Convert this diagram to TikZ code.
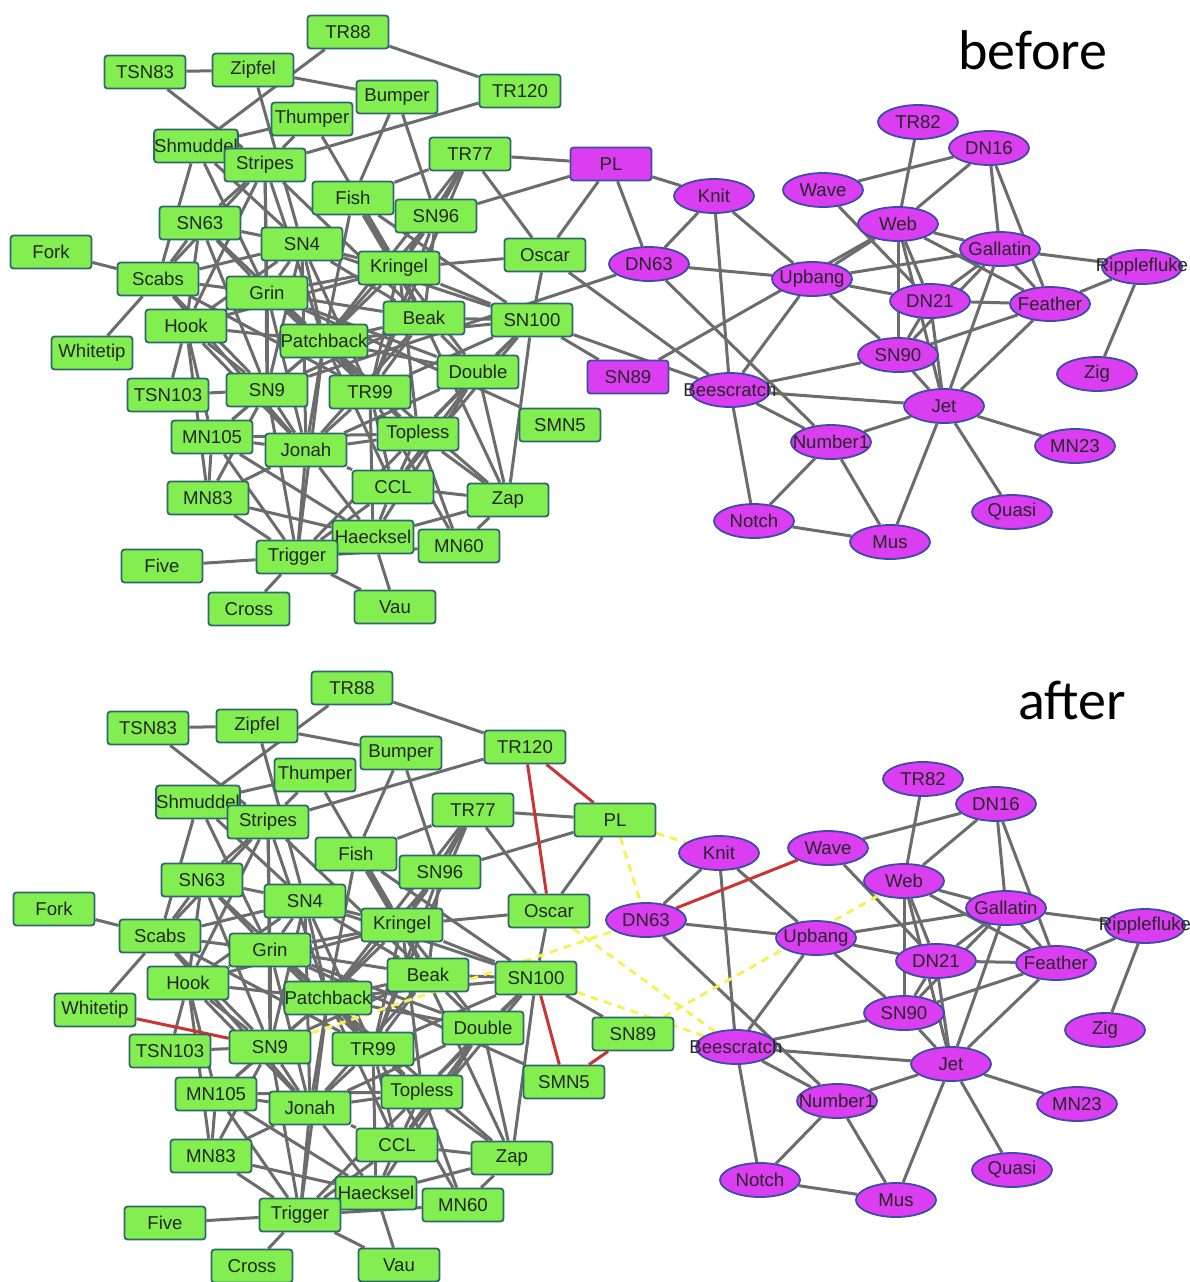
\documentclass[tikz,border=0pt]{standalone}
\usepackage{fontspec}
\setmainfont{Liberation Sans}
\newfontfamily\titlefont{Carlito}
\usetikzlibrary{shapes.geometric,backgrounds}

\definecolor{gfill}{RGB}{130,238,80}
\definecolor{gline}{RGB}{48,104,108}
\definecolor{mfill}{RGB}{218,62,240}
\definecolor{mline}{RGB}{62,76,168}
\definecolor{egray}{RGB}{108,108,108}
\definecolor{ered}{RGB}{204,52,52}
\definecolor{eyel}{RGB}{246,240,90}

\newcommand{\zw}[1]{\makebox[0pt]{#1}}

% edges that both networks share
\def\gedges{TSN83/Zipfel, TSN83/Stripes, TR88/Shmuddel, TR88/TR120, Zipfel/Bumper, Zipfel/SN4,
 Thumper/Shmuddel, Thumper/Stripes, Thumper/Kringel, Bumper/Fish, Bumper/SN96, TR120/Stripes,
 Shmuddel/Stripes, Shmuddel/Scabs, Shmuddel/SN4, Shmuddel/Grin, Stripes/SN63, Stripes/Scabs,
 Stripes/Hook, Stripes/Grin, Stripes/Beak, Stripes/Patchback, Stripes/SN9, Fish/TR77, Fish/Kringel,
 Fish/Beak, Fish/Patchback, Fish/SN100, TR77/Kringel, TR77/Patchback, TR77/TR99, TR77/Oscar,
 TR77/SN96, SN96/Kringel, SN96/Beak, SN96/TR99, SN96/Patchback, Kringel/Oscar, Kringel/SN100,
 SN4/SN100, Kringel/SN4, Oscar/SN100, SN63/SN4, SN63/Scabs, SN63/Hook, SN63/Grin, SN63/Patchback,
 SN63/SN9, Scabs/Fork, Scabs/Whitetip, Scabs/SN4, Scabs/Grin, Scabs/SN9, Scabs/TR99, Scabs/Jonah,
 SN4/Grin, SN4/Patchback, SN4/Beak, SN4/TR99, SN4/Jonah, SN4/SN9, SN4/Hook, Grin/Kringel, Grin/Beak,
 Grin/Hook, Grin/Patchback, Grin/SN9, Grin/TR99, Grin/Jonah, Grin/SMN5, Grin/Double, Hook/SN9,
 Hook/TSN103, Hook/Patchback, Hook/Kringel, Hook/MN105, Hook/Jonah, Hook/MN83, Kringel/Beak,
 Kringel/Patchback, Kringel/TR99, Kringel/Double, Kringel/Topless, Kringel/Zap, Beak/SN100,
 Beak/Patchback, Beak/Double, Beak/TR99, Beak/Jonah, Beak/SN9, Patchback/SN100, Patchback/Double,
 Patchback/TR99, Patchback/SN9, Patchback/Jonah, Patchback/Trigger, Patchback/MN105, Patchback/Topless,
 Patchback/CCL, Patchback/Zap, SN100/Double, SN100/Zap, SN100/CCL, SN100/TR99, SN100/Topless,
 Double/Zap, Double/Topless, Double/CCL, Double/Haecksel, Double/Jonah, TR99/Topless, TR99/CCL,
 TR99/Jonah, TR99/Haecksel, TR99/MN60, SN9/TSN103, SN9/MN105, SN9/Jonah, SN9/MN83, SN9/Trigger,
 MN105/Jonah, MN105/Topless, MN105/MN83, MN105/Trigger, MN105/Haecksel, Jonah/Topless, Jonah/MN83,
 Jonah/Trigger, Jonah/Haecksel, Jonah/CCL, Topless/CCL, Topless/Zap, Topless/MN60, Topless/Trigger,
 CCL/Zap, CCL/Haecksel, CCL/Trigger, MN83/Trigger, MN83/Haecksel, Zap/Haecksel, Zap/MN60,
 Haecksel/Trigger, Haecksel/Vau, Trigger/Five, Trigger/Cross, Trigger/Vau, Trigger/MN60,
 PL/TR77, PL/SN96, PL/Oscar, SN100/SN89}
\def\medges{Knit/DN63, Knit/Upbang, Knit/Beescratch, DN63/Upbang, DN63/Number1, Upbang/Beescratch,
 Upbang/SN90, Upbang/DN21, Upbang/Gallatin, Wave/DN16, Wave/DN21, TR82/Web, DN16/Web, DN16/Gallatin,
 DN16/Feather, Web/Gallatin, Web/DN21, Web/SN90, Web/Jet, Web/Feather, Gallatin/Ripplefluke,
 Gallatin/Feather, Gallatin/DN21, Gallatin/SN90, Gallatin/Jet, DN21/Feather, DN21/Jet, DN21/SN90,
 Feather/Ripplefluke, Feather/SN90, Feather/Jet, Ripplefluke/Zig, SN90/Beescratch, SN90/Jet,
 Beescratch/Jet, Beescratch/Number1, Beescratch/Notch, Number1/Jet, Number1/Notch, Number1/Mus,
 Notch/Mus, Jet/Mus, Jet/Quasi, Jet/MN23}
% edges that are lost, and edges that are new
\def\oldedges{PL/Knit, PL/DN63, SN9/DN63, Oscar/Beescratch, SN100/Beescratch, SN89/Web}
\def\newedges{TR120/PL, TR120/Oscar, SN100/SMN5, SMN5/SN89, DN63/Wave, Whitetip/SN9}

\tikzset{
  gnode/.style={rectangle, rounded corners=1.5pt, draw=gline, fill=gfill, line width=0.9pt,
    minimum width=40.5pt, minimum height=16.5pt, inner sep=0pt,
    font=\fontsize{9.3}{10}\selectfont, text=black!85},
  mbox/.style={gnode, fill=mfill, draw=mline},
  mnode/.style={ellipse, draw=mline, fill=mfill, line width=0.9pt,
    minimum width=40pt, minimum height=17pt, inner sep=0pt,
    font=\fontsize{9.3}{10}\selectfont, text=black!85},
  link/.style={draw=egray, line width=1.5pt},
  newlink/.style={draw=ered, line width=1.5pt},
  lostlink/.style={draw=eyel, line width=1.5pt, dash pattern=on 4pt off 3pt},
  heading/.style={font=\titlefont\fontsize{28}{30}\selectfont}
}

\begin{document}
\begin{tikzpicture}[x=0.5pt,y=-0.5pt]
\useasboundingbox (0,0) rectangle (1190,1282);

% before
\node[heading] (tbefore) at (1033,50) {before};
\node[gnode] (aTR88) at (348,32) {TR88};
\node[gnode] (aTSN83) at (145,72) {TSN83};
\node[gnode] (aZipfel) at (253,70) {Zipfel};
\node[gnode] (aBumper) at (397,97) {Bumper};
\node[gnode] (aTR120) at (520,91) {TR120};
\node[gnode] (aThumper) at (312,119) {Thumper};
\node[gnode] (aShmuddel) at (196,146) {Shmuddel};
\node[gnode] (aStripes) at (265,165) {Stripes};
\node[gnode] (aTR77) at (470,154) {TR77};
\node[gnode] (aFish) at (353,198) {Fish};
\node[gnode] (aSN96) at (436,216) {SN96};
\node[gnode] (aSN63) at (200,223) {SN63};
\node[gnode] (aSN4) at (302,244) {SN4};
\node[gnode] (aFork) at (51,252) {Fork};
\node[gnode] (aScabs) at (158,279) {Scabs};
\node[gnode] (aGrin) at (267,293) {Grin};
\node[gnode] (aKringel) at (399,268) {Kringel};
\node[gnode] (aOscar) at (545,255) {Oscar};
\node[gnode] (aHook) at (186,326) {Hook};
\node[gnode] (aBeak) at (424,318) {Beak};
\node[gnode] (aSN100) at (532,320) {SN100};
\node[gnode] (aWhitetip) at (92,353) {Whitetip};
\node[gnode] (aPatchback) at (324,341) {Patchback};
\node[gnode] (aDouble) at (478,372) {Double};
\node[gnode] (aTSN103) at (168,395) {TSN103};
\node[gnode] (aSN9) at (267,390) {SN9};
\node[gnode] (aTR99) at (370,392) {TR99};
\node[gnode] (aSMN5) at (560,425) {SMN5};
\node[gnode] (aMN105) at (212,437) {MN105};
\node[gnode] (aJonah) at (306,450) {Jonah};
\node[gnode] (aTopless) at (418,434) {Topless};
\node[gnode] (aCCL) at (393,487) {CCL};
\node[gnode] (aMN83) at (208,498) {MN83};
\node[gnode] (aZap) at (508,500) {Zap};
\node[gnode] (aHaecksel) at (373,537) {Haecksel};
\node[gnode] (aMN60) at (459,546) {MN60};
\node[gnode] (aFive) at (162,566) {Five};
\node[gnode] (aTrigger) at (297,557) {Trigger};
\node[gnode] (aCross) at (249,609) {Cross};
\node[gnode] (aVau) at (395,607) {Vau};
\node[mbox] (aPL) at (611,164) {PL};
\node[mbox] (aSN89) at (628,377) {SN89};
\node[mnode] (aKnit) at (714,196) {\zw{Knit}};
\node[mnode] (aDN63) at (649,264) {\zw{DN63}};
\node[mnode] (aTR82) at (918,122) {\zw{TR82}};
\node[mnode] (aDN16) at (989,148) {\zw{DN16}};
\node[mnode] (aWave) at (823,190) {\zw{Wave}};
\node[mnode] (aWeb) at (898,224) {\zw{Web}};
\node[mnode] (aGallatin) at (1000,249) {\zw{Gallatin}};
\node[mnode] (aUpbang) at (812,279) {\zw{Upbang}};
\node[mnode] (aDN21) at (930,301) {\zw{DN21}};
\node[mnode] (aFeather) at (1050,304) {\zw{Feather}};
\node[mnode] (aRipplefluke) at (1142,267) {\zw{Ripplefluke}};
\node[mnode] (aSN90) at (898,355) {\zw{SN90}};
\node[mnode] (aZig) at (1097,374) {\zw{Zig}};
\node[mnode] (aBeescratch) at (730,390) {\zw{Beescratch}};
\node[mnode] (aJet) at (944,406) {\zw{Jet}};
\node[mnode] (aNumber1) at (831,442) {\zw{Number1}};
\node[mnode] (aMN23) at (1075,446) {\zw{MN23}};
\node[mnode] (aNotch) at (754,521) {\zw{Notch}};
\node[mnode] (aQuasi) at (1012,512) {\zw{Quasi}};
\node[mnode] (aMus) at (890,542) {\zw{Mus}};

% after
\node[heading] (tafter) at (1072,700) {after};
\node[gnode] (bTR88) at (352,688) {TR88};
\node[gnode] (bTSN83) at (148,728) {TSN83};
\node[gnode] (bZipfel) at (257,726) {Zipfel};
\node[gnode] (bBumper) at (401,753) {Bumper};
\node[gnode] (bTR120) at (525,747) {TR120};
\node[gnode] (bThumper) at (315,775) {Thumper};
\node[gnode] (bShmuddel) at (198,802) {Shmuddel};
\node[gnode] (bStripes) at (268,822) {Stripes};
\node[gnode] (bTR77) at (473,810) {TR77};
\node[gnode] (bPL) at (615,820) {PL};
\node[gnode] (bFish) at (356,854) {Fish};
\node[gnode] (bSN96) at (440,872) {SN96};
\node[gnode] (bSN63) at (202,880) {SN63};
\node[gnode] (bSN4) at (305,901) {SN4};
\node[gnode] (bFork) at (54,909) {Fork};
\node[gnode] (bScabs) at (160,936) {Scabs};
\node[gnode] (bGrin) at (270,950) {Grin};
\node[gnode] (bKringel) at (402,925) {Kringel};
\node[gnode] (bOscar) at (549,911) {Oscar};
\node[gnode] (bHook) at (188,983) {Hook};
\node[gnode] (bBeak) at (428,975) {Beak};
\node[gnode] (bSN100) at (536,978) {SN100};
\node[gnode] (bWhitetip) at (95,1010) {Whitetip};
\node[gnode] (bPatchback) at (328,998) {Patchback};
\node[gnode] (bDouble) at (483,1028) {Double};
\node[gnode] (bTSN103) at (170,1051) {TSN103};
\node[gnode] (bSN9) at (270,1047) {SN9};
\node[gnode] (bTR99) at (373,1049) {TR99};
\node[gnode] (bSN89) at (633,1034) {SN89};
\node[gnode] (bSMN5) at (564,1082) {SMN5};
\node[gnode] (bMN105) at (216,1094) {MN105};
\node[gnode] (bJonah) at (310,1108) {Jonah};
\node[gnode] (bTopless) at (422,1092) {Topless};
\node[gnode] (bCCL) at (397,1145) {CCL};
\node[gnode] (bMN83) at (211,1156) {MN83};
\node[gnode] (bZap) at (512,1158) {Zap};
\node[gnode] (bHaecksel) at (376,1193) {Haecksel};
\node[gnode] (bMN60) at (463,1205) {MN60};
\node[gnode] (bFive) at (165,1223) {Five};
\node[gnode] (bTrigger) at (300,1215) {Trigger};
\node[gnode] (bCross) at (252,1266) {Cross};
\node[gnode] (bVau) at (399,1265) {Vau};
\node[mnode] (bKnit) at (719,853) {\zw{Knit}};
\node[mnode] (bDN63) at (646,920) {\zw{DN63}};
\node[mnode] (bWave) at (828,848) {\zw{Wave}};
\node[mnode] (bTR82) at (923,779) {\zw{TR82}};
\node[mnode] (bDN16) at (996,804) {\zw{DN16}};
\node[mnode] (bWeb) at (904,881) {\zw{Web}};
\node[mnode] (bGallatin) at (1006,908) {\zw{Gallatin}};
\node[mnode] (bUpbang) at (816,938) {\zw{Upbang}};
\node[mnode] (bDN21) at (936,961) {\zw{DN21}};
\node[mnode] (bFeather) at (1056,963) {\zw{Feather}};
\node[mnode] (bRipplefluke) at (1145,926) {\zw{Ripplefluke}};
\node[mnode] (bSN90) at (904,1013) {\zw{SN90}};
\node[mnode] (bZig) at (1105,1030) {\zw{Zig}};
\node[mnode] (bBeescratch) at (736,1047) {\zw{Beescratch}};
\node[mnode] (bJet) at (951,1064) {\zw{Jet}};
\node[mnode] (bNumber1) at (837,1101) {\zw{Number1}};
\node[mnode] (bMN23) at (1077,1104) {\zw{MN23}};
\node[mnode] (bNotch) at (760,1180) {\zw{Notch}};
\node[mnode] (bQuasi) at (1012,1170) {\zw{Quasi}};
\node[mnode] (bMus) at (896,1200) {\zw{Mus}};

\begin{scope}[on background layer]
\foreach \u/\v in \gedges {\draw[link] (a\u) -- (a\v); \draw[link] (b\u) -- (b\v);}
\foreach \u/\v in \medges {\draw[link] (a\u) -- (a\v); \draw[link] (b\u) -- (b\v);}
\foreach \u/\v in \oldedges \draw[link] (a\u) -- (a\v);
\draw[link] (aUpbang) -- (aWeb);
\foreach \u/\v in \oldedges \draw[lostlink] (b\u) -- (b\v);
\foreach \u/\v in \newedges \draw[newlink] (b\u) -- (b\v);
\end{scope}
\end{tikzpicture}
\end{document}
